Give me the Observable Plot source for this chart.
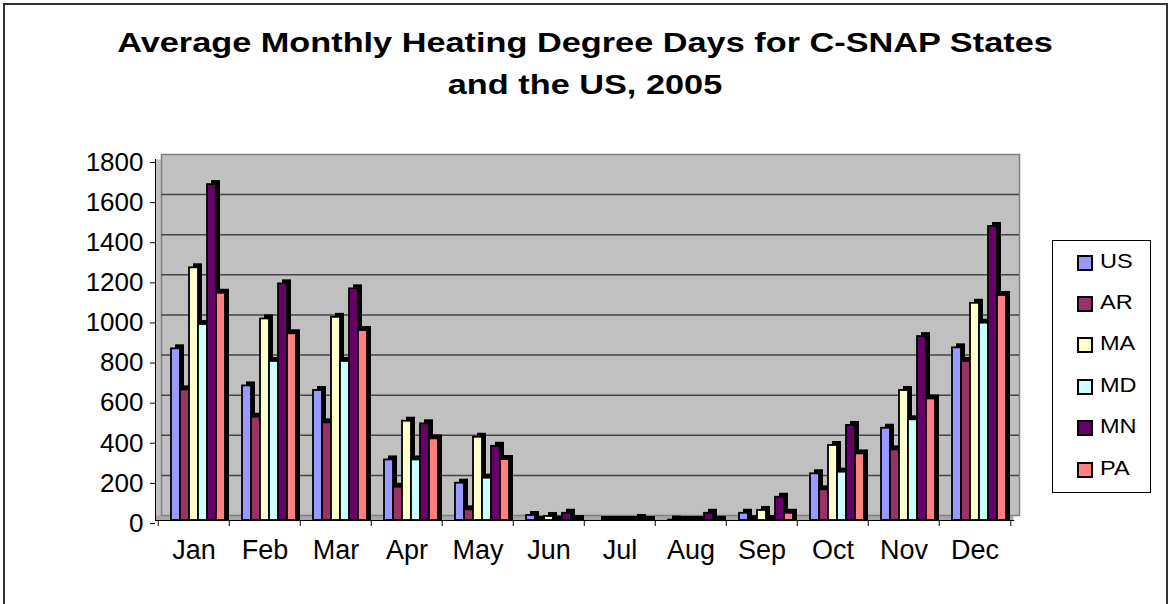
<!DOCTYPE html>
<html>
<head>
<meta charset="utf-8">
<script src="https://cdn.jsdelivr.net/npm/d3@7"></script>
<script src="https://cdn.jsdelivr.net/npm/@observablehq/plot@0.6"></script>
<style>
  body { margin: 0; background: #fff; }
  #chart { position: relative; width: 1170px; height: 604px; overflow: hidden; background: #fff;
           font-family: "Liberation Sans", Arial, sans-serif; }
  #border { position: absolute; left: 3px; top: 3px; width: 1161px; height: 700px; border: 2px solid #333; }
  .title { position: absolute; left: 0; width: 1170px; text-align: center; font-weight: bold;
           font-size: 27px; line-height: 27px; color: #000; transform: scaleX(1.27); transform-origin: 585px 0; white-space: nowrap; }
  #legend { position: absolute; left: 1052px; top: 240px; width: 97px; height: 251px; border: 1px solid #000; background: #fff; }
  .item { position: absolute; left: 0; height: 20px; width: 97px; }
  .sw { position: absolute; left: 24px; top: 2px; width: 12px; height: 12px; border: 2px solid #000; }
  .lab { position: absolute; left: 47px; top: -3px; font-size: 21px; line-height: 22px; transform: scaleX(1.12); transform-origin: 0 0; }
  svg { position: absolute; top: 0; left: 0; }
</style>
</head>
<body>
<div id="chart">
  <div id="border"></div>
  <div class="title" style="top:30px">Average Monthly Heating Degree Days for C-SNAP States</div>
  <div class="title" style="top:72px">and the US, 2005</div>
  <div id="legend"></div>
</div>
<script>
const months = ["Jan","Feb","Mar","Apr","May","Jun","Jul","Aug","Sep","Oct","Nov","Dec"];
const series = ["US","AR","MA","MD","MN","PA"];
const colors = ["#9999FF","#993366","#FFFFCC","#CCFFFF","#660066","#FF8080"];
const US = [856, 671, 648, 302, 186, 25, 0, 2, 36, 233, 460, 861];
const AR = [651, 515, 487, 166, 53, 0, 0, 0, 4, 153, 352, 793];
const MA = [1260, 1005, 1013, 495, 415, 20, 0, 0, 50, 374, 648, 1083];
const MD = [977, 793, 793, 302, 211, 2, 0, 0, 5, 241, 502, 984];
const MN = [1675, 1180, 1155, 482, 370, 36, 10, 36, 116, 474, 917, 1466];
const PA = [1133, 931, 947, 407, 304, 5, 0, 1, 36, 332, 606, 1122];
const yTicks = [0, 200, 400, 600, 800, 1000, 1200, 1400, 1600, 1800];

const valuesBySeries = {US, AR, MA, MD, MN, PA};
const data = series.flatMap(s => months.map((m, i) => ({month: m, series: s, value: valuesBySeries[s][i]})));

const W = 1040, H = 604;
const margins = {marginLeft: 155, marginRight: 27, marginTop: 159, marginBottom: 84};
const halfStep = (W - margins.marginLeft - margins.marginRight) / months.length / 2;
const font = {fontFamily: "Liberation Sans, Arial, sans-serif", background: "transparent", overflow: "visible"};

const bg = Plot.plot({
  width: W, height: H, ...margins,
  style: font,
  x: {type: "band", domain: months, padding: 0, axis: null},
  y: {domain: [0, 1800], axis: null},
  marks: [
    Plot.frame({fill: "#C0C0C0", stroke: null}),
    Plot.ruleY([0], {stroke: "#A8A8A8", strokeWidth: 5, dy: -2.5}),
    Plot.frame({fill: "#C0C0C0", stroke: "#808080", strokeWidth: 1.5, dx: 6, dy: -5}),
    Plot.ruleY(yTicks.slice(1, -1), {stroke: "#454545", strokeWidth: 1.5, dx: 6, dy: -5}),
    Plot.frame({anchor: "left", stroke: "#000", strokeWidth: 1}),
    Plot.frame({anchor: "bottom", stroke: "#000", strokeWidth: 1.2}),
    Plot.axisY({ticks: yTicks, tickSize: 5, tickPadding: 7, fontSize: 26, dy: 3, fill: "#000", label: null, tickFormat: d => String(d)}),
    Plot.axisX({tickSize: 0, tickPadding: 19, fontSize: 27, fill: "#000", label: null}),
    Plot.axisX({tickSize: 6, text: null, dx: -halfStep, label: null}),
    Plot.axisX({ticks: ["Dec"], tickSize: 6, text: null, dx: halfStep, label: null})
  ]
});

const bars = Plot.plot({
  width: W, height: H, ...margins,
  style: font,
  fx: {domain: months, padding: 0, axis: null},
  x: {domain: series, padding: 0, paddingOuter: 0.763, align: 0.738, axis: null},
  y: {domain: [0, 1800], axis: null},
  color: {domain: series, range: colors},
  marks: [
    Plot.barY(data, {fx: "month", x: "series", y: "value", fill: "#000", dx: 4, dy: -4, insetBottom: -4}),
    Plot.barY(data, {fx: "month", x: "series", y: "value", fill: "series", stroke: "#000", strokeWidth: 1.8})
  ]
});

const chart = document.getElementById("chart");
chart.insertBefore(bg, document.getElementById("legend"));
chart.insertBefore(bars, document.getElementById("legend"));

const legend = document.getElementById("legend");
series.forEach((s, i) => {
  const item = document.createElement("div");
  item.className = "item";
  item.style.top = (11.5 + i * 41.4) + "px";
  const sw = document.createElement("div");
  sw.className = "sw";
  sw.style.background = colors[i];
  const lab = document.createElement("div");
  lab.className = "lab";
  lab.textContent = s;
  item.appendChild(sw);
  item.appendChild(lab);
  legend.appendChild(item);
});
</script>
</body>
</html>
